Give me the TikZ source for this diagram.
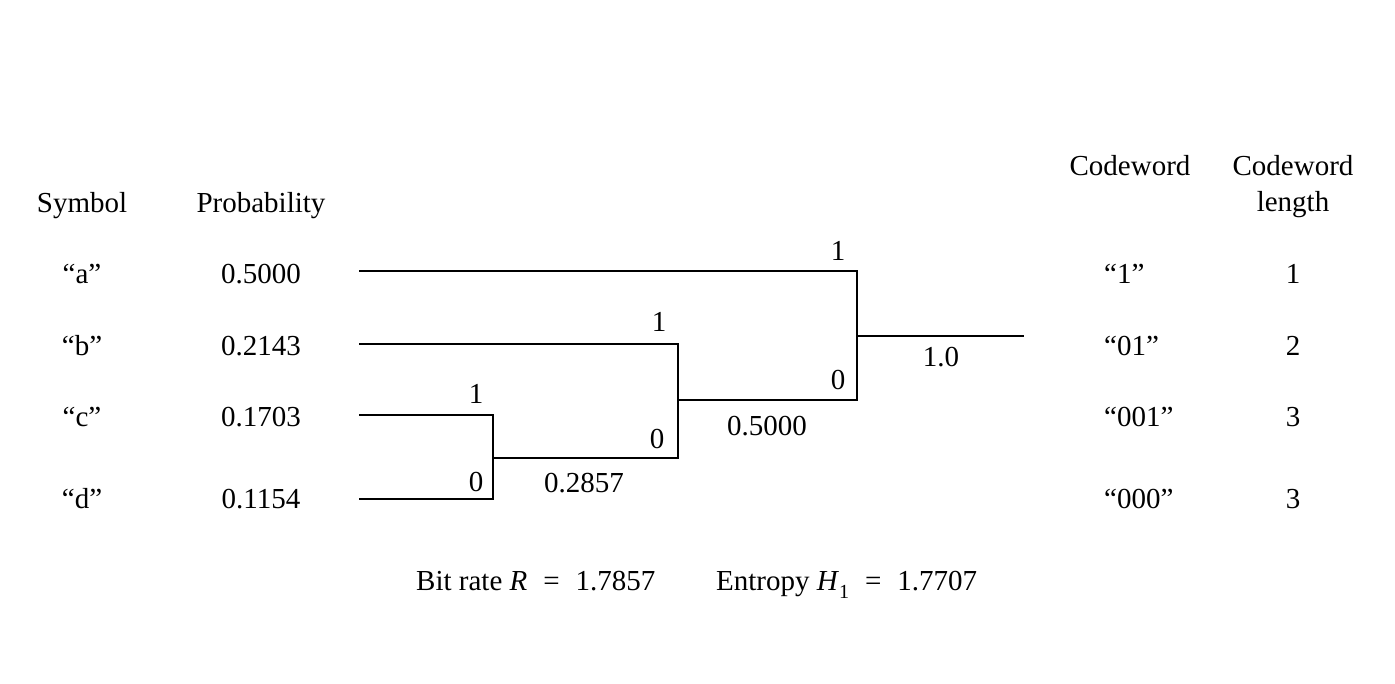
\documentclass[tikz,border=0pt]{standalone}
\usepackage{fontspec}
\setmainfont{Liberation Serif}
\newcommand{\myeq}{\hspace{0.55em}=\hspace{0.55em}}
\begin{document}
\begin{tikzpicture}[x=1pt,y=-1pt,
  txt/.style={inner sep=0pt,anchor=base,font=\fontsize{29}{34}\selectfont},
  ltxt/.style={txt,anchor=base west},
  wire/.style={line width=2.2pt,line cap=rect}]
\useasboundingbox (0,0) rectangle (1395,683);
% headers
\node[txt] (hsym) at (82,212) {Symbol};
\node[txt] (hprob) at (261,212) {Probability};
\node[txt] (hcw) at (1130,175) {Codeword};
\node[txt] (hlen1) at (1293,175) {Codeword};
\node[txt] (hlen2) at (1293,211) {length};
% symbols
\node[txt] (sa) at (82,283) {“a”};
\node[txt] (sb) at (82,355) {“b”};
\node[txt] (sc) at (82,426) {“c”};
\node[txt] (sd) at (82,508) {“d”};
% probabilities
\node[txt] (pa) at (261,283) {0.5000};
\node[txt] (pb) at (261,355) {0.2143};
\node[txt] (pc) at (261,426) {0.1703};
\node[txt] (pd) at (261,508) {0.1154};
% codewords
\node[ltxt] (ca) at (1104,283) {“1”};
\node[ltxt] (cb) at (1104,355) {“01”};
\node[ltxt] (cc) at (1104,426) {“001”};
\node[ltxt] (cd) at (1104,508) {“000”};
% lengths
\node[txt] (la) at (1293,283) {1};
\node[txt] (lb) at (1293,355) {2};
\node[txt] (lc) at (1293,426) {3};
\node[txt] (ld) at (1293,508) {3};
% tree coordinates
\coordinate (a0) at (360,271);
\coordinate (b0) at (360,344);
\coordinate (c0) at (360,415);
\coordinate (d0) at (360,499);
\coordinate (n1t) at (493,415);
\coordinate (n1b) at (493,499);
\coordinate (n1m) at (493,458);
\coordinate (n2t) at (678,344);
\coordinate (n2b) at (678,458);
\coordinate (n2m) at (678,400);
\coordinate (n3t) at (857,271);
\coordinate (n3b) at (857,400);
\coordinate (n3m) at (857,336);
\coordinate (root) at (1023,336);
\draw[wire] (c0) -- (n1t) -- (n1b) -- (d0);
\draw[wire] (n1m) -- (n2b);
\draw[wire] (b0) -- (n2t) -- (n2b);
\draw[wire] (n2m) -- (n3b) -- (n3t) -- (a0);
\draw[wire] (n3m) -- (root);
% branch labels
\node[txt] (b31) at (838,260) {1};
\node[txt] (b30) at (838,389) {0};
\node[txt] (b21) at (659,331) {1};
\node[txt] (b20) at (657,448) {0};
\node[txt] (b11) at (476,403) {1};
\node[txt] (b10) at (476,491) {0};
\node[txt] (v3) at (941,366) {1.0};
\node[txt] (v2) at (767,435) {0.5000};
\node[txt] (v1) at (584,492) {0.2857};
% bottom
\node[ltxt] (rate) at (416,590) {Bit rate \textit{R}\myeq 1.7857};
\node[ltxt] (ent) at (716,590) {Entropy \textit{H}\raisebox{-0.28em}{\fontsize{20}{20}\selectfont 1}\myeq 1.7707};
\end{tikzpicture}
\end{document}
